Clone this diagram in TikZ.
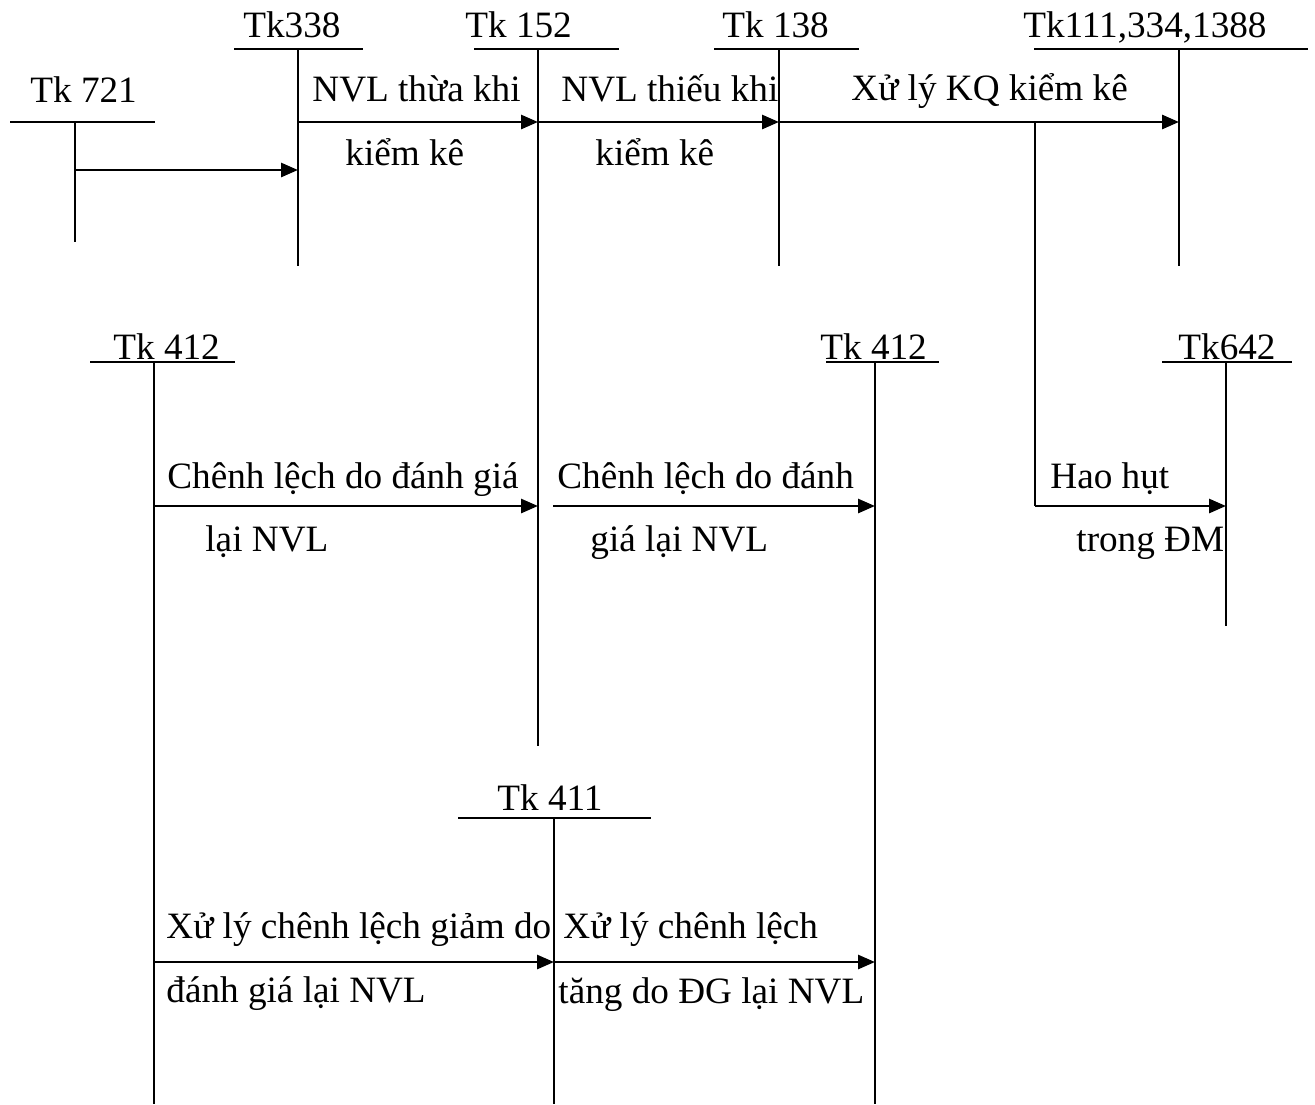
\documentclass[tikz,border=0pt]{standalone}
\usepackage{fontspec}
\setmainfont{Liberation Serif}
\usetikzlibrary{arrows.meta}
\begin{document}
\begin{tikzpicture}[x=0.5pt,y=-0.5pt,
  lbl/.style={anchor=base west,inner sep=0pt,font=\fontsize{18.6}{22}\selectfont},
  head/.style={line width=1.1pt},
  vert/.style={line width=0.9pt},
  flow/.style={line width=1.4pt,-{Triangle[length=8.5pt,width=7pt]}},
  plain/.style={line width=0.9pt}]
\useasboundingbox (0,0) rectangle (1315,1104);
% T-account coordinates
\coordinate (h721a) at (10,122);  \coordinate (h721b) at (155,122);
\coordinate (v721t) at (75,122);  \coordinate (v721b) at (75,242);
\coordinate (h338a) at (234,49);  \coordinate (h338b) at (363,49);
\coordinate (v338t) at (298,49);  \coordinate (v338b) at (298,266);
\coordinate (h152a) at (474,49);  \coordinate (h152b) at (619,49);
\coordinate (v152t) at (538,49);  \coordinate (v152b) at (538,746);
\coordinate (h138a) at (714,49);  \coordinate (h138b) at (859,49);
\coordinate (v138t) at (779,49);  \coordinate (v138b) at (779,266);
\coordinate (h111a) at (1034,49); \coordinate (h111b) at (1308,49);
\coordinate (v111t) at (1179,49); \coordinate (v111b) at (1179,266);
\coordinate (h412La) at (90,362); \coordinate (h412Lb) at (235,362);
\coordinate (v412Lt) at (154,362);\coordinate (v412Lb) at (154,1104);
\coordinate (h412Ra) at (826,362);\coordinate (h412Rb) at (939,362);
\coordinate (v412Rt) at (875,362);\coordinate (v412Rb) at (875,1104);
\coordinate (h642a) at (1162,362);\coordinate (h642b) at (1292,362);
\coordinate (v642t) at (1226,362);\coordinate (v642b) at (1226,626);
\coordinate (h411a) at (458,818); \coordinate (h411b) at (651,818);
\coordinate (v411t) at (554,818); \coordinate (v411b) at (554,1104);
% arrow endpoints
\coordinate (a1s) at (75,170);   \coordinate (a1e) at (298,170);
\coordinate (a2s) at (298,122);  \coordinate (a2e) at (538,122);
\coordinate (a3s) at (538,122);  \coordinate (a3e) at (779,122);
\coordinate (a4s) at (779,122);  \coordinate (a4e) at (1179,122);
\coordinate (b1) at (1035,122);  \coordinate (b2) at (1035,506); \coordinate (b3) at (1226,506);
\coordinate (a5s) at (154,506);  \coordinate (a5e) at (538,506);
\coordinate (a6s) at (553,506);  \coordinate (a6e) at (875,506);
\coordinate (a7s) at (154,962);  \coordinate (a7e) at (554,962);
\coordinate (a8s) at (554,962);  \coordinate (a8e) at (875,962);
% headers and verticals
\foreach \n in {721,338,152,138,111,412L,412R,642,411}{
  \draw[head] (h\n a) -- (h\n b);
  \draw[vert] (v\n t) -- (v\n b);
}
% flows
\draw[flow] (a1s) -- (a1e);
\draw[flow] (a2s) -- (a2e);
\draw[flow] (a3s) -- (a3e);
\draw[flow] (a4s) -- (a4e);
\draw[plain] (b1) -- (b2);
\draw[flow] (b2) -- (b3);
\draw[flow] (a5s) -- (a5e);
\draw[flow] (a6s) -- (a6e);
\draw[flow] (a7s) -- (a7e);
\draw[flow] (a8s) -- (a8e);
% labels
\node[lbl] (t721) at (30,102) {Tk 721};
\node[lbl] (t338) at (243,37) {Tk338};
\node[lbl] (t152) at (465,37) {Tk 152};
\node[lbl] (t138) at (722,37) {Tk 138};
\node[lbl] (t111) at (1023,37) {Tk111,334,1388};
\node[lbl] (t412L) at (113,359) {Tk 412};
\node[lbl] (t412R) at (820,359) {Tk 412};
\node[lbl] (t642) at (1178,359) {Tk642};
\node[lbl] (t411) at (497,810) {Tk 411};
\node[lbl] (l1a) at (312,101) {NVL thừa khi};
\node[lbl] (l1b) at (345,165) {kiểm kê};
\node[lbl] (l2a) at (561,101) {NVL thiếu khi};
\node[lbl] (l2b) at (595,165) {kiểm kê};
\node[lbl] (l3a) at (851,100) {Xử lý KQ kiểm kê};
\node[lbl] (l4a) at (167,488) {Chênh lệch do đánh giá};
\node[lbl] (l4b) at (205,551) {lại NVL};
\node[lbl] (l5a) at (557,488) {Chênh lệch do đánh};
\node[lbl] (l5b) at (590,551) {giá lại NVL};
\node[lbl] (l6a) at (1050,488) {Hao hụt};
\node[lbl] (l6b) at (1076,551) {trong ĐM};
\node[lbl] (l7a) at (166,938) {Xử lý chênh lệch giảm do};
\node[lbl] (l7b) at (166,1002) {đánh giá lại NVL};
\node[lbl] (l8a) at (563,938) {Xử lý chênh lệch};
\node[lbl] (l8b) at (558,1003) {tăng do ĐG lại NVL};
\end{tikzpicture}
\end{document}
